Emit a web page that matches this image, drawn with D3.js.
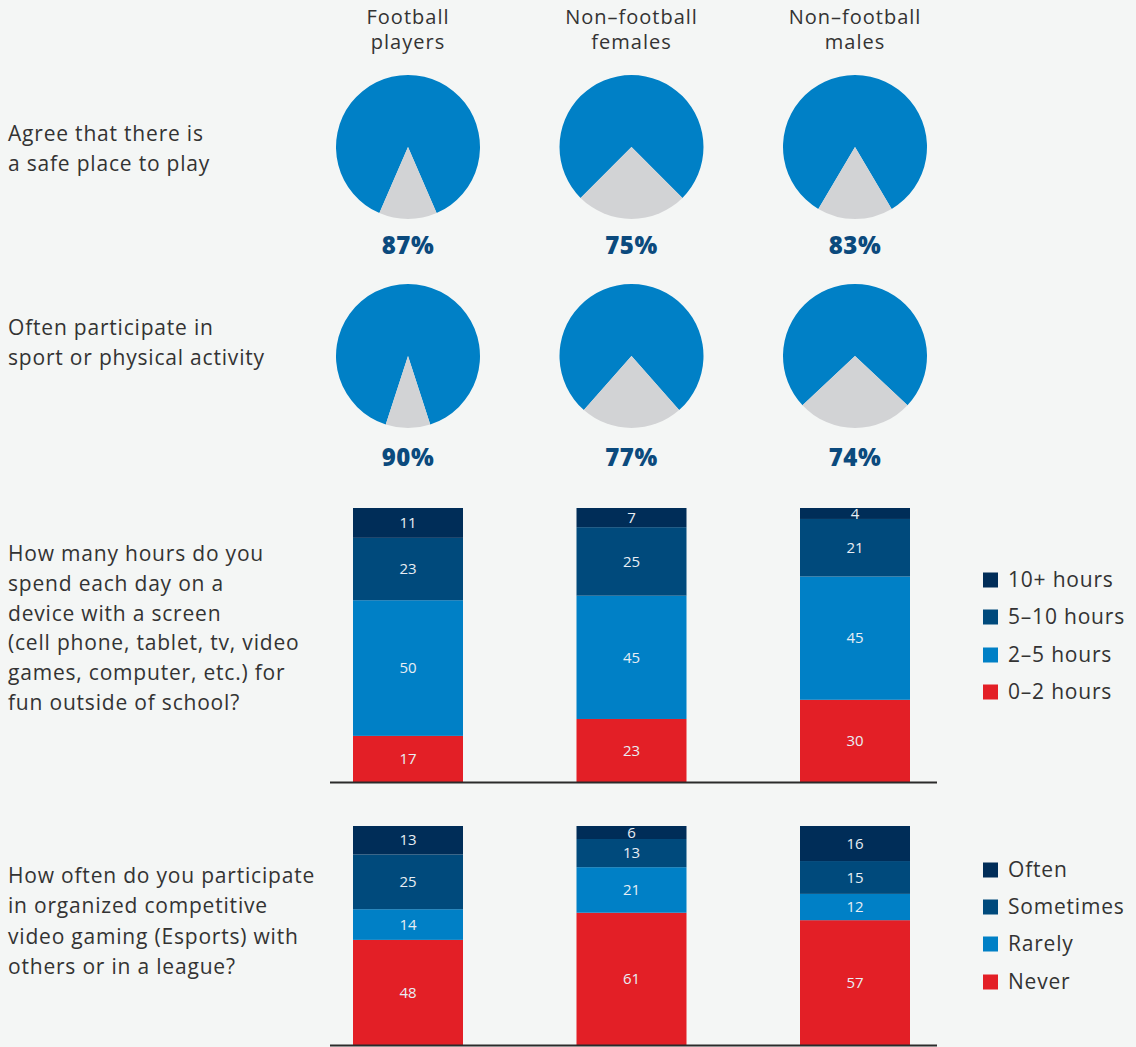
<!DOCTYPE html>
<html>
<head>
<meta charset="utf-8">
<script src="https://cdn.jsdelivr.net/npm/d3@7"></script>
<style>
  html, body { margin: 0; padding: 0; background: #f4f6f5; }
  svg { display: block; font-family: "Open Sans", "Lato", sans-serif; }
  .lbl { font-size: 21px; letter-spacing: 0.8px; }
  .hdr { font-size: 20px; letter-spacing: 1px; }
</style>
</head>
<body>
<svg id="chart" width="1136" height="1047"></svg>
<script>
// Survey groups shown as columns
const groups = ["Football players", "Non-football females", "Non-football males"];
const groupHeaders = [["Football", "players"], ["Non–football", "females"], ["Non–football", "males"]];

// Pie rows: share agreeing (%)
const safePlace = [87, 75, 83];
const oftenActive = [90, 77, 74];

// Screen time (stacked, bottom to top)
const screenKeys = ["0–2 hours", "2–5 hours", "5–10 hours", "10+ hours"];
const screen0to2 = [17, 23, 30];
const screen2to5 = [50, 45, 45];
const screen5to10 = [23, 25, 21];
const screen10plus = [11, 7, 4];

// Esports participation (stacked, bottom to top)
const esportKeys = ["Never", "Rarely", "Sometimes", "Often"];
const esportNever = [48, 61, 57];
const esportRarely = [14, 21, 12];
const esportSometimes = [25, 13, 15];
const esportOften = [13, 6, 16];

const rowLabels = [
  ["Agree that there is", "a safe place to play"],
  ["Often participate in", "sport or physical activity"],
  ["How many hours do you", "spend each day on a", "device with a screen", "(cell phone, tablet, tv, video", "games, computer, etc.) for", "fun outside of school?"],
  ["How often do you participate", "in organized competitive", "video gaming (Esports) with", "others or in a league?"]
];

const stackColors = ["#e31f26", "#0080c6", "#004a7c", "#002d58"];
const pieBlue = "#0080c6";
const pieGrey = "#d2d3d5";
const textColor = "#333333";
const pctColor = "#0b4a7d";

const svg = d3.select("#chart");

// Column positions shared by pies and bars
const xCenter = d3.scalePoint().domain(groups).range([408, 855]);

// Column headers, one text per line
groups.forEach((g, i) => {
  groupHeaders[i].forEach((line, j) => {
    svg.append("text").attr("class", "hdr")
      .attr("x", xCenter(g)).attr("y", 24 + j * 25)
      .attr("text-anchor", "middle")
      .attr("fill", textColor)
      .text(line);
  });
});

// Row labels on the left
function rowLabel(lines, firstY, step) {
  const t = svg.append("text").attr("class", "lbl").attr("fill", textColor);
  lines.forEach((line, j) => {
    t.append("tspan").attr("x", 8).attr("y", firstY + j * step).text(line);
  });
}
rowLabel(rowLabels[0], 141, 30);
rowLabel(rowLabels[1], 335, 30);
rowLabel(rowLabels[2], 561, 29.8);
rowLabel(rowLabels[3], 883, 30.3);

// Pie rows: blue share with the grey remainder centred at the bottom
const radius = 72;
const arc = d3.arc().innerRadius(0).outerRadius(radius);

function pieRow(values, cy, pctY) {
  values.forEach((v, i) => {
    const rest = (100 - v) / 100 * 2 * Math.PI;
    const pie = d3.pie().sort(null)
      .startAngle(Math.PI + rest / 2)
      .endAngle(3 * Math.PI + rest / 2);
    const arcs = pie([v, 100 - v]);
    const g = svg.append("g").attr("transform", `translate(${xCenter(groups[i])},${cy})`);
    g.selectAll("path").data(arcs).join("path")
      .attr("d", arc)
      .attr("fill", (d, k) => k === 0 ? pieBlue : pieGrey);
    svg.append("text")
      .attr("x", xCenter(groups[i])).attr("y", pctY)
      .attr("text-anchor", "middle")
      .attr("fill", pctColor)
      .style("font-size", "24px").style("font-weight", "800")
      .style("letter-spacing", "0.6px")
      .text(v + "%");
  });
}
pieRow(safePlace, 147, 254);
pieRow(oftenActive, 356, 466);

// Stacked bar charts (each column fills its full height)
const barWidth = 110;

function stackedChart(keys, series, yBottom, yTop, legendYs) {
  const rows = groups.map((g, i) => {
    const r = { group: g };
    keys.forEach((k, j) => { r[k] = series[j][i]; });
    return r;
  });
  const stack = d3.stack().keys(keys).offset(d3.stackOffsetExpand);
  const layers = stack(rows);
  const y = d3.scaleLinear().domain([0, 1]).range([yBottom, yTop]);

  const layerG = svg.append("g").selectAll("g").data(layers).join("g")
    .attr("fill", (d, j) => stackColors[j]);
  layerG.selectAll("rect").data(d => d).join("rect")
    .attr("x", d => xCenter(d.data.group) - barWidth / 2)
    .attr("width", barWidth)
    .attr("y", d => y(d[1]))
    .attr("height", d => y(d[0]) - y(d[1]));

  // Value labels
  layers.forEach((layer) => {
    layer.forEach(d => {
      svg.append("text")
        .attr("x", xCenter(d.data.group))
        .attr("y", (y(d[0]) + y(d[1])) / 2)
        .attr("dy", "0.35em")
        .attr("text-anchor", "middle")
        .attr("fill", "#e8eef4")
        .style("font-size", "15px")
        .text(d.data[layer.key]);
    });
  });

  // Baseline
  svg.append("line")
    .attr("x1", 330).attr("x2", 937)
    .attr("y1", yBottom + 0.5).attr("y2", yBottom + 0.5)
    .attr("stroke", "#2b2b2b").attr("stroke-width", 2);

  // Legend, top key first
  const legendKeys = keys.slice().reverse();
  legendKeys.forEach((k, j) => {
    const idx = keys.indexOf(k);
    const ly = legendYs[j];
    svg.append("rect")
      .attr("x", 983).attr("y", ly - 7.5)
      .attr("width", 15).attr("height", 15)
      .attr("fill", stackColors[idx]);
    svg.append("text").attr("class", "lbl")
      .attr("x", 1008).attr("y", ly).attr("dy", "0.35em")
      .attr("fill", textColor)
      .text(k);
  });
}

stackedChart(screenKeys, [screen0to2, screen2to5, screen5to10, screen10plus], 782, 508, [580, 617, 655, 692]);
stackedChart(esportKeys, [esportNever, esportRarely, esportSometimes, esportOften], 1045, 826, [870, 907, 944, 982]);
</script>
</body>
</html>
